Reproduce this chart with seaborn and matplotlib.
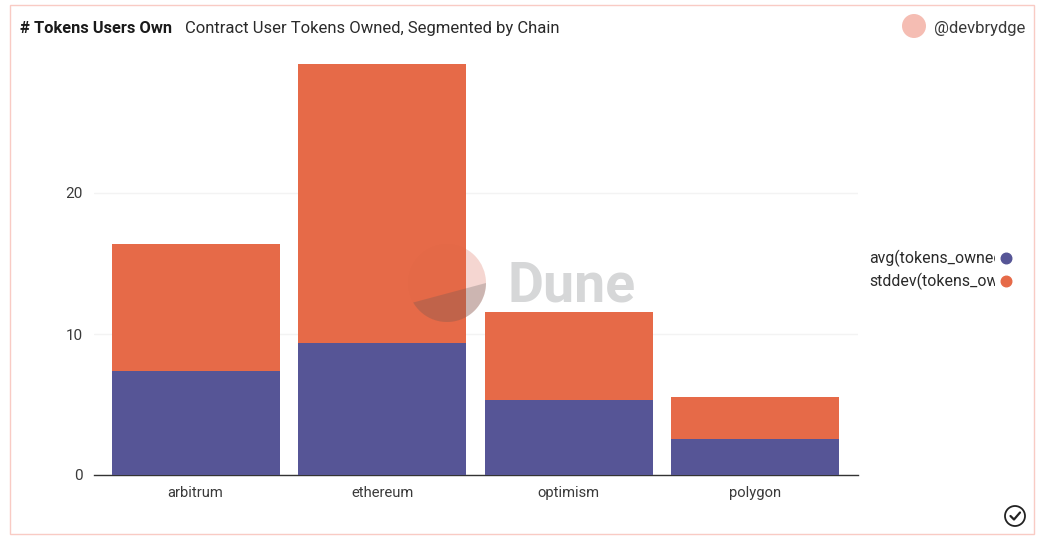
import matplotlib
matplotlib.use("Agg")
import matplotlib.pyplot as plt
import seaborn as sns
from matplotlib.patches import Rectangle, Circle, Polygon
from matplotlib.lines import Line2D
from matplotlib.transforms import Bbox, IdentityTransform
import numpy as np

chains = ["arbitrum", "ethereum", "optimism", "polygon"]
avg_tokens = [7.4, 9.35, 5.35, 2.55]
std_tokens = [9.0, 19.8, 6.2, 3.0]
y_ticks = [0, 10, 20]
series_names = ["avg(tokens_owned)", "stddev(tokens_owned)"]
title_text = "# Tokens Users Own"
subtitle_text = "Contract User Tokens Owned, Segmented by Chain"
author = "@devbrydge"

PURPLE = "#565596"
ORANGE = "#e66a48"
W, H = 1042, 546

sns.set_theme(style="white")
plt.rcParams["font.family"] = ["Roboto", "DejaVu Sans"]

fig = plt.figure(figsize=(W / 100, H / 100), dpi=100, facecolor="white")


def fx(px):
    return px / W


def fy(py):
    return 1 - py / H


ax = fig.add_axes([fx(93.5), fy(475), fx(858 - 93.5), (475 - 50) / H])
ax.patch.set_alpha(0)

bar_style = dict(width=0.9, saturation=1, ax=ax, zorder=3, edgecolor="none", linewidth=0)
sns.barplot(x=chains, y=avg_tokens, color=PURPLE, **bar_style)
sns.barplot(x=chains, y=std_tokens, bottom=avg_tokens, color=ORANGE, **bar_style)

ax.set_xlim(-0.547, 3.55)
ax.set_ylim(0, 425 / 14.1)
ax.set_yticks(y_ticks)
ax.set_ylabel("")
ax.set_xlabel("")
ax.yaxis.grid(True, color="#f3f3f3", linewidth=1)
ax.set_axisbelow(True)
sns.despine(ax=ax, left=True)
ax.spines["bottom"].set_color("#333333")
ax.spines["bottom"].set_linewidth(1)
ax.tick_params(axis="both", length=0, labelcolor="#3a3a3a")
ax.tick_params(axis="x", pad=8, labelsize=10.6)
ax.tick_params(axis="y", pad=8, labelsize=11)

# card border
fig.add_artist(Rectangle((fx(10), fy(534)), 1024 / W, 529 / H, transform=fig.transFigure,
                         fill=False, edgecolor="#f9cbc4", linewidth=1))

# titles
fig.text(fx(20), fy(33), title_text, fontsize=11.8, fontweight="bold", color="#1a1a1a", va="baseline")
fig.text(fx(185), fy(33), subtitle_text, fontsize=11.95, color="#2a2a2a", va="baseline")
fig.text(fx(934), fy(33), author, fontsize=12, color="#3a3a3a", va="baseline")

# avatar
fig.add_artist(Circle((914, H - 26), 12, transform=IdentityTransform(), facecolor="#f5bdb3", edgecolor="none"))

# legend, clipped to its column
clip = Bbox([[860, 0], [995, H]])
for name, colour, py in zip(series_names, [PURPLE, ORANGE], [258, 281]):
    t = fig.text(fx(869), fy(py), name, fontsize=11.4, color="#2a2a2a", va="center")
    t.set_clip_box(clip)
    t.set_clip_on(True)
    fig.add_artist(Line2D([fx(1005.5)], [fy(py)], marker="o", markersize=7.6, color=colour,
                          linestyle="none", transform=fig.transFigure))

# watermark
cx, cy, r = 447, H - 283, 39
disc = Circle((cx, cy), r, transform=IdentityTransform(), facecolor="#b05040", edgecolor="none", alpha=0.03, zorder=5)
fig.add_artist(disc)
pink = Circle((cx, cy), r, transform=IdentityTransform(), facecolor="#f7d3cc", edgecolor="none", alpha=0.8, zorder=4)
pink.set_clip_box(Bbox([[466, 0], [W, H]]))
fig.add_artist(pink)
a0, a1 = np.deg2rad(210), np.deg2rad(360)
ang = np.linspace(a0, a1, 60)
pts = np.column_stack([cx + r * np.cos(ang), cy + r * np.sin(ang)])
fig.add_artist(Polygon(pts, closed=True, transform=IdentityTransform(), facecolor="#555555",
                       edgecolor="none", alpha=0.25, zorder=6))
fig.text(fx(507.5), fy(302), "Dune", fontsize=40, fontweight="bold", color="#d6d7d8", va="baseline", zorder=6)

# check badge
fig.add_artist(Circle((1015, H - 516), 10, transform=IdentityTransform(), facecolor="white",
                      edgecolor="#222222", linewidth=1.3))
fig.add_artist(Line2D(np.array([1010.5, 1014, 1020]) / W, np.array([fy(516), fy(519.5), fy(512.5)]),
                      color="#222222", linewidth=1.6, transform=fig.transFigure))

fig.savefig("out.png", dpi=100)
